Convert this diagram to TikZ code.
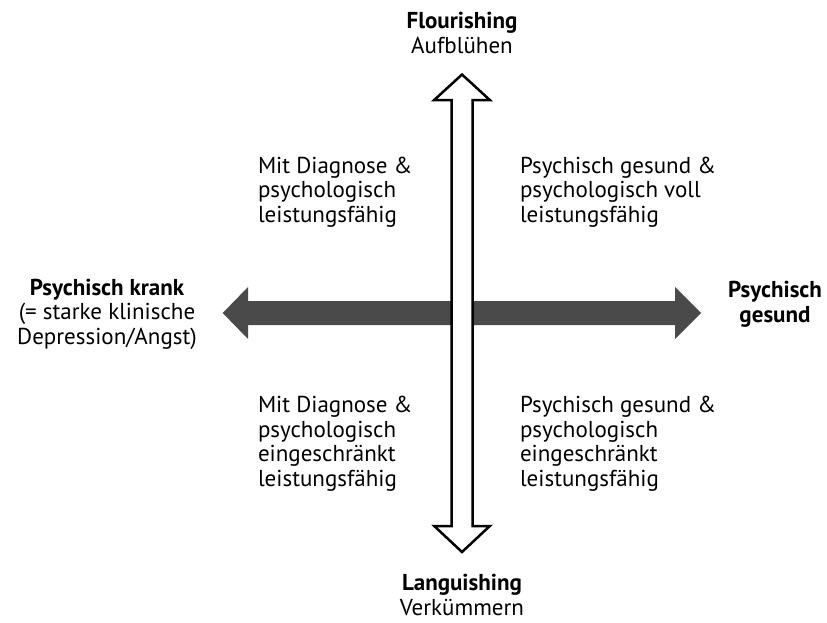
\documentclass[tikz,border=0pt]{standalone}
\usepackage{fontspec}
\setmainfont{PT Sans}
\definecolor{hgray}{RGB}{74,74,74}
\begin{document}
\begin{tikzpicture}[x=1pt,y=-1pt,
  txt/.style={font=\fontsize{23}{24.5}\selectfont, inner sep=0pt, outer sep=0pt},
  ltxt/.style={txt, align=left, anchor=base west},
  ctxt/.style={txt, align=center, anchor=base}]
\useasboundingbox (0,0) rectangle (827,622);
% horizontal arrow
\fill[hgray] (222.7,313) -- (248,287) -- (248,301) -- (675,301) -- (675,287) -- (701,313)
  -- (675,339) -- (675,325) -- (248,325) -- (248,339) -- cycle;
% vertical arrow
\draw[line width=2.5pt, fill=white, line join=miter] (462,74.5) -- (489.8,100) -- (472.5,100)
  -- (472.5,526) -- (489.8,526) -- (462,552) -- (434.2,526) -- (451.5,526) -- (451.5,100)
  -- (434.2,100) -- cycle;
% labels (base anchor = baseline of last line)
\node[ctxt] (top) at (462,53) {\textbf{Flourishing}\\Aufblühen};
\node[ctxt] (bottom) at (462,615) {\textbf{Languishing}\\Verkümmern};
\node[ctxt] (left) at (107,344) {\textbf{Psychisch krank}\\(= starke klinische\\Depression/Angst)};
\node[ctxt] (right) at (775,322) {\textbf{Psychisch}\\\textbf{gesund}};
\node[ltxt] (tl) at (258,222) {Mit Diagnose \&\\psychologisch\\leistungsfähig};
\node[ltxt] (tr) at (520,222) {Psychisch gesund \&\\psychologisch voll\\leistungsfähig};
\node[ltxt] (bl) at (258,486) {Mit Diagnose \&\\psychologisch\\eingeschränkt\\leistungsfähig};
\node[ltxt] (br) at (520,486) {Psychisch gesund \&\\psychologisch\\eingeschränkt\\leistungsfähig};
\end{tikzpicture}
\end{document}
